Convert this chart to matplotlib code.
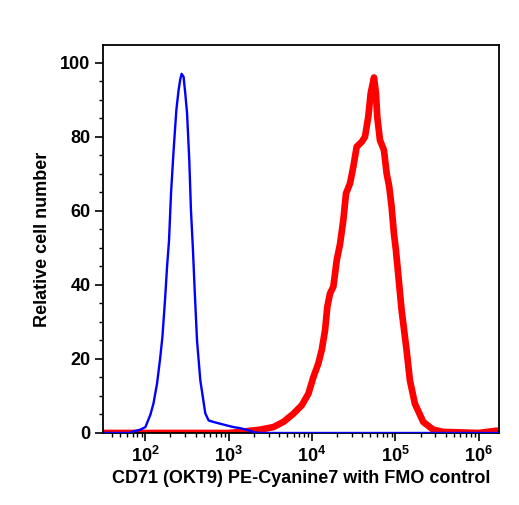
import numpy as np
import matplotlib
matplotlib.use('Agg')
import matplotlib.pyplot as plt
from matplotlib.ticker import LogLocator, FixedLocator, NullFormatter

plt.rcParams['font.family'] = ['Liberation Sans', 'DejaVu Sans']
plt.rcParams['font.weight'] = 'bold'
plt.rcParams['mathtext.fontset'] = 'custom'
plt.rcParams['mathtext.rm'] = 'Liberation Sans:bold'
plt.rcParams['mathtext.bf'] = 'Liberation Sans:bold'

# FMO control (blue)
fmo_x = [30, 64, 71, 87, 100, 115, 125, 138, 150, 160, 172, 182, 192, 203, 218,
         235, 250, 262, 272, 287, 300, 316, 336, 352, 372, 390, 416, 456, 523,
         573, 650, 791, 1000, 1141, 1373, 1800, 2000, 2300, 10000, 1e5, 1.75e6]
fmo_y = [0, 0, 0.4, 0.9, 1.6, 5, 8, 13.4, 20, 26, 36, 45, 52, 64.8, 76.4,
         87.2, 92.6, 95.5, 97, 96.2, 92, 86.4, 73.7, 60.2, 49.4, 38.6, 25, 14.2, 5.3,
         3.4, 3.0, 2.5, 1.9, 1.6, 1.3, 0.6, 0.2, 0, 0, 0, 0]

# CD71 PE-Cyanine7 stained (red)
cd71_x = [30, 300, 1000, 1373, 2384, 3441, 4532, 5970, 7530, 9030, 10370, 11890,
          13060, 14320, 15240, 16430, 17990, 19770, 21630, 23710, 25540, 28510,
          31240, 34280, 39370, 43150, 47230, 50480, 55330, 58400, 60530, 65200,
          72800, 78470, 84300, 90000, 95900, 101400, 118600, 136100, 149200,
          171300, 215400, 283800, 373500, 1e6, 1.6e6, 1.75e6]
cd71_y = [0, 0, 0, 0.3, 0.9, 1.6, 3.0, 5.2, 7.5, 10.6, 15.1, 18.8,
          22.4, 27.8, 34.1, 37.7, 39.5, 46.7, 51, 57.5, 64.7, 67.4,
          71.9, 77.3, 78.6, 80.0, 85.4, 91.7, 96, 91.7, 85.4, 79.1,
          76.4, 70.1, 66.5, 61.1, 53.9, 49.4, 33.2, 22.4, 14.2,
          7.9, 3.0, 0.9, 0.3, 0, 0.6, 0.6]

x_ticks = [1e2, 1e3, 1e4, 1e5, 1e6]
x_ticklabels = [r'$10^{2}$', r'$10^{3}$', r'$10^{4}$', r'$10^{5}$', r'$10^{6}$']
y_ticks = [0, 20, 40, 60, 80, 100]

fig = plt.figure(figsize=(5.19, 5.05), dpi=100)
ax = fig.add_axes([0.1985, 0.1426, 0.763, 0.7684])

ax.plot(cd71_x, cd71_y, color='#ff0000', linewidth=4.8, solid_joinstyle='round', zorder=2)
ax.plot(fmo_x, fmo_y, color='#0000ff', linewidth=1.7, zorder=3)

ax.set_xscale('log')
ax.set_xlim(31, 1.75e6)
ax.set_ylim(0, 104.8)

ax.xaxis.set_major_locator(FixedLocator(x_ticks))
ax.set_xticklabels(x_ticklabels)
ax.xaxis.set_minor_locator(LogLocator(base=10, subs=np.arange(2, 10)))
ax.xaxis.set_minor_formatter(NullFormatter())
ax.set_yticks(y_ticks)
ax.yaxis.set_minor_locator(FixedLocator(np.arange(0, 105, 5)))

ax.tick_params(axis='both', which='major', direction='out', length=6, width=1.2,
               labelsize=13, pad=3)
ax.tick_params(axis='both', which='minor', direction='out', length=3, width=1)
for lbl in ax.get_yticklabels():
    lbl.set_fontweight('bold')

for sp in ax.spines.values():
    sp.set_linewidth(1.3)

ax.set_xlabel('CD71 (OKT9) PE-Cyanine7 with FMO control', fontsize=13, fontweight='bold', labelpad=3)
ax.set_ylabel('Relative cell number', fontsize=13, fontweight='bold', labelpad=7)

fig.savefig('out.png', dpi=100)
